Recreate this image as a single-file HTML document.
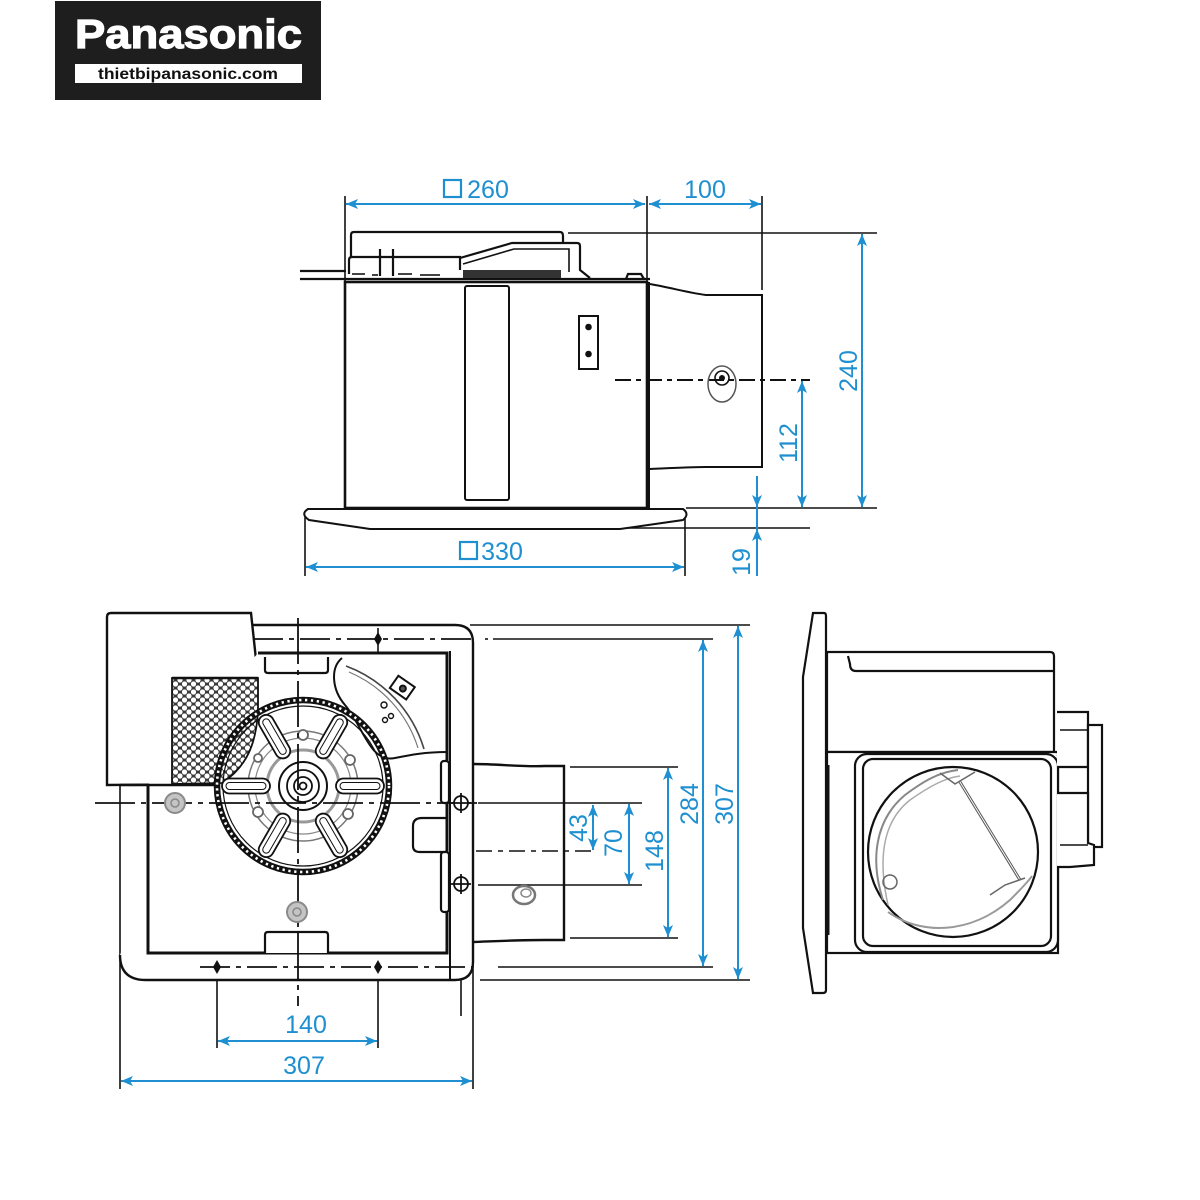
<!DOCTYPE html>
<html><head><meta charset="utf-8">
<style>html,body{margin:0;padding:0;background:#fff}svg{display:block}</style></head>
<body>
<svg width="1200" height="1200" viewBox="0 0 1200 1200" xmlns="http://www.w3.org/2000/svg">
<defs>
<marker id="ar" markerWidth="12" markerHeight="10" refX="12" refY="5" orient="auto-start-reverse" markerUnits="userSpaceOnUse" viewBox="0 0 12 10"><path d="M0,0 L12,5 L0,10 L3,5 z" fill="#1e8fd0"/></marker>
<pattern id="hex" width="9" height="8" patternUnits="userSpaceOnUse">
<rect width="9" height="8" fill="#3a3a3a"/>
<circle cx="0" cy="0" r="2.6" fill="#fff"/><circle cx="9" cy="0" r="2.6" fill="#fff"/>
<circle cx="4.5" cy="4" r="2.6" fill="#fff"/>
<circle cx="0" cy="8" r="2.6" fill="#fff"/><circle cx="9" cy="8" r="2.6" fill="#fff"/>
</pattern>
</defs>
<rect width="1200" height="1200" fill="#fff"/>

<!-- LOGO -->
<rect x="55" y="1" width="266" height="99" fill="#1e1e1e"/>
<text x="75" y="48" font-family="Liberation Sans, Arial, sans-serif" font-weight="bold" font-size="41" fill="#fff" stroke="#fff" stroke-width="1.2" textLength="227" lengthAdjust="spacingAndGlyphs">Panasonic</text>
<rect x="75" y="64" width="227" height="19" fill="#fff"/>
<text x="188" y="79" text-anchor="middle" font-family="Liberation Sans, Arial, sans-serif" font-weight="bold" font-size="16" fill="#111" textLength="180" lengthAdjust="spacingAndGlyphs">thietbipanasonic.com</text>

<!-- ================= TOP VIEW ================= -->
<g stroke="#111" fill="none" stroke-width="1.6">
  <line x1="345" y1="196" x2="345" y2="282"/>
  <line x1="647" y1="196" x2="647" y2="282"/>
  <line x1="762" y1="196" x2="762" y2="290"/>
  <line x1="568" y1="233" x2="877" y2="233"/>
  <line x1="686" y1="508" x2="877" y2="508"/>
  <line x1="620" y1="528" x2="810" y2="528"/>
  <line x1="305" y1="515" x2="305" y2="576"/>
  <line x1="685" y1="518" x2="685" y2="576"/>
</g>
<g stroke="#111" fill="none" stroke-width="2.2">
  <path d="M351,257 L351,235 Q351,232 354,232 L560,232 Q563,232 563,236 L563,242"/>
  <path d="M349,274 L349,260 Q349,257 352,257 L460,257 L460,270"/>
  <path d="M460,258 L512,243 L577,243 Q580,243 580,246 L580,270 L590,278"/>
  <path d="M463,264 L514,249 L569,249 L569,272" stroke-width="1.6"/>
  <line x1="380" y1="249" x2="380" y2="276"/>
  <line x1="393" y1="249" x2="393" y2="276"/>
  <line x1="300" y1="271" x2="346" y2="271"/>
  <line x1="300" y1="279" x2="346" y2="279"/>
  <line x1="345" y1="279" x2="650" y2="279"/>
  <path d="M626,279 L628,274 L641,274 L644,279"/>
</g>
<rect x="463" y="270" width="98" height="8" fill="#333"/>
<g fill="none" stroke="#444" stroke-width="2">
  <path d="M352,274 L365,274 M372,275 L378,275 M398,274 L412,274 M420,275 L440,275"/>
</g>
<g stroke="#111" fill="none" stroke-width="2.6">
  <rect x="345" y="282" width="302" height="226" fill="#fff"/>
</g>
<g stroke="#111" fill="none" stroke-width="2">
  <line x1="649" y1="282" x2="649" y2="508"/>
  <rect x="465" y="286" width="44" height="214" rx="2"/>
  <rect x="579" y="316" width="19" height="53"/>
  <circle cx="588.5" cy="327" r="2.3" fill="#111"/>
  <circle cx="588.5" cy="354" r="2.3" fill="#111"/>
  <path d="M650,284 C672,288 690,293 706,295 L762,295 L762,467 L706,467 C690,467 672,468 650,469"/>
  <path d="M308,509 L683,509 Q690,514 683,520 L620,529 L370,529 L309,520 Q300,514 308,509 Z" fill="#fff"/>
  <line x1="615" y1="380" x2="810" y2="380" stroke-dasharray="16 5 5 5"/>
  <ellipse cx="722" cy="384" rx="14" ry="18" stroke="#555" stroke-width="1.5"/>
  <circle cx="722" cy="378" r="7" stroke-width="1.6"/>
  <circle cx="722" cy="378" r="2" fill="#111"/>
</g>
<g stroke="#1e8fd0" stroke-width="2" fill="none">
  <line x1="346" y1="204" x2="645" y2="204" marker-start="url(#ar)" marker-end="url(#ar)"/>
  <line x1="649" y1="204" x2="761" y2="204" marker-start="url(#ar)" marker-end="url(#ar)"/>
  <line x1="862" y1="234" x2="862" y2="507" marker-start="url(#ar)" marker-end="url(#ar)"/>
  <line x1="802" y1="381" x2="802" y2="507" marker-start="url(#ar)" marker-end="url(#ar)"/>
  <line x1="757" y1="476" x2="757" y2="507" marker-end="url(#ar)"/>
  <line x1="757" y1="576" x2="757" y2="529" marker-end="url(#ar)"/>
  <line x1="757" y1="507" x2="757" y2="529"/>
  <line x1="306" y1="567" x2="684" y2="567" marker-start="url(#ar)" marker-end="url(#ar)"/>
  <rect x="444" y="180" width="17" height="17" stroke-width="2.2"/>
  <rect x="460" y="542" width="17" height="17" stroke-width="2.2"/>
</g>
<g font-family="Liberation Sans, Arial, sans-serif" font-size="25" fill="#1e8fd0">
  <text x="488" y="198" text-anchor="middle">260</text>
  <text x="705" y="198" text-anchor="middle">100</text>
  <text x="502" y="560" text-anchor="middle">330</text>
  <text transform="translate(848,371) rotate(-90)" text-anchor="middle" dy="9">240</text>
  <text transform="translate(788,443) rotate(-90)" text-anchor="middle" dy="9">112</text>
  <text transform="translate(741,562) rotate(-90)" text-anchor="middle" dy="9">19</text>
</g>

<!-- ================= BOTTOM VIEW ================= -->
<g stroke="#111" fill="none" stroke-width="1.6">
  <line x1="470" y1="625" x2="750" y2="625"/>
  <line x1="485" y1="639" x2="488" y2="639"/>
  <line x1="493" y1="639" x2="713" y2="639"/>
  <line x1="570" y1="767" x2="678" y2="767"/>
  <line x1="478" y1="803" x2="642" y2="803"/>
  <line x1="478" y1="885" x2="642" y2="885"/>
  <line x1="570" y1="938" x2="678" y2="938"/>
  <line x1="498" y1="967" x2="713" y2="967"/>
  <line x1="480" y1="980" x2="750" y2="980"/>
  <line x1="120" y1="785" x2="120" y2="1089"/>
  <line x1="473" y1="960" x2="473" y2="1089"/>
  <line x1="217" y1="955" x2="217" y2="1048"/>
  <line x1="378" y1="955" x2="378" y2="1048"/>
  <line x1="461" y1="900" x2="461" y2="1016"/>
  <line x1="401" y1="851" x2="403" y2="851"/>
  <line x1="410" y1="851" x2="597" y2="851" stroke-dasharray="16 6 5 6"/>
</g>
<g stroke="#111" fill="none" stroke-width="2.4">
  <path d="M253,625 L455,625 Q473,625 473,643 L473,962 Q473,980 455,980 L146,980 Q120,980 120,955" fill="#fff"/>
  <path d="M473,764 C500,764 520,767 545,766 L564,766 L564,940 L545,940 C520,940 500,941 473,942"/>
</g>
<g stroke="#111" stroke-width="2.4" fill="#fff">
  <path d="M107,785 L107,617 Q107,613 111,613 L251,613 L258,678 L258,784 Z"/>
</g>
<g stroke="#111" fill="none" stroke-width="3">
  <path d="M258,653 L447,653 L447,953 L148,953 L148,785" fill="#fff"/>
  <line x1="450" y1="651" x2="450" y2="980" stroke-width="2"/>
  <line x1="120" y1="785" x2="258" y2="785" stroke-width="2.4"/>
</g>
<g stroke="#111" fill="#fff" stroke-width="2.2">
  <path d="M265,657 L265,670 Q265,673 268,673 L325,673 Q328,673 328,670 L328,657"/>
  <path d="M265,953 L265,935 Q265,932 268,932 L325,932 Q328,932 328,935 L328,953"/>
  <path d="M447,818 L422,818 Q413,818 413,826 L413,846 Q413,852 420,852 L447,852" fill="none"/>
  <rect x="441" y="761" width="8" height="42" rx="3"/>
  <rect x="441" y="852" width="8" height="60" rx="3"/>
</g>
<!-- fan -->
<circle cx="303" cy="786" r="88" fill="#fff"/>
<path d="M172,678 L258,678 L258,712 C256,742 248,766 222,783 L172,784 Z" fill="url(#hex)" stroke="#111" stroke-width="1.8"/>
<line x1="172" y1="678" x2="258" y2="678" stroke="#111" stroke-width="2.4"/>
<g stroke="#111" fill="none" stroke-width="2">
  <path d="M342,658 C330,668 332,690 345,705 C356,718 362,735 372,748 C378,756 386,760 395,758 C410,755 425,752 447,752" fill="#fff"/>
  <path d="M346,666 A128,128 0 0 1 424,749" stroke="#444" stroke-width="1.6"/>
  <path d="M349,672 A122,122 0 0 1 418,748" stroke="#777" stroke-width="1.2"/>
  <g transform="translate(402,688) rotate(35)"><rect x="-10" y="-8" width="20" height="15" fill="#fff"/><circle cx="1" cy="0" r="3" fill="#555"/></g>
  <circle cx="384" cy="705" r="3" stroke-width="1.4"/>
  <circle cx="391" cy="716" r="2.5" stroke-width="1.4"/>
  <circle cx="385" cy="720" r="2.5" stroke-width="1.4"/>
</g>
<g fill="none" stroke="#111">
  <circle cx="303" cy="786" r="86" stroke-width="6.5"/>
  <circle cx="303" cy="786" r="86" stroke="#fff" stroke-width="2.6" stroke-dasharray="2.3 3.6"/>
  <circle cx="303" cy="786" r="80" stroke-width="1.2"/>
  <circle cx="303" cy="786" r="55" stroke="#777" stroke-width="1.5"/>
  <circle cx="303" cy="786" r="48" stroke="#888" stroke-width="1.2"/>
  <circle cx="303" cy="786" r="36" stroke="#999" stroke-width="3"/>
</g>
<g stroke="#111" fill="#fff" stroke-width="1.8">
  <g transform="translate(303,786) rotate(0)"><rect x="33" y="-7.5" width="48" height="15" rx="7.5"/><rect x="37" y="-3.5" width="40" height="7" rx="3.5" stroke-width="1"/></g>
  <g transform="translate(303,786) rotate(60)"><rect x="33" y="-7.5" width="48" height="15" rx="7.5"/><rect x="37" y="-3.5" width="40" height="7" rx="3.5" stroke-width="1"/></g>
  <g transform="translate(303,786) rotate(120)"><rect x="33" y="-7.5" width="48" height="15" rx="7.5"/><rect x="37" y="-3.5" width="40" height="7" rx="3.5" stroke-width="1"/></g>
  <g transform="translate(303,786) rotate(180)"><rect x="33" y="-7.5" width="48" height="15" rx="7.5"/><rect x="37" y="-3.5" width="40" height="7" rx="3.5" stroke-width="1"/></g>
  <g transform="translate(303,786) rotate(240)"><rect x="33" y="-7.5" width="48" height="15" rx="7.5"/><rect x="37" y="-3.5" width="40" height="7" rx="3.5" stroke-width="1"/></g>
  <g transform="translate(303,786) rotate(300)"><rect x="33" y="-7.5" width="48" height="15" rx="7.5"/><rect x="37" y="-3.5" width="40" height="7" rx="3.5" stroke-width="1"/></g>
  <circle cx="303" cy="786" r="24" stroke-width="2"/>
  <circle cx="303" cy="786" r="16"/>
  <circle cx="303" cy="786" r="9"/>
  <circle cx="303" cy="786" r="3.5"/>
  <circle cx="258" cy="812" r="5" stroke="#666"/>
  <circle cx="350" cy="760" r="5" stroke="#666"/>
  <circle cx="348" cy="814" r="5" stroke="#666"/>
  <circle cx="258" cy="758" r="4" stroke="#666"/>
  <circle cx="303" cy="735" r="5" stroke="#666"/>
</g>
<g stroke="#111" stroke-width="1.8" fill="none">
  <line x1="298" y1="618" x2="298" y2="1006" stroke-dasharray="46 6 5 6"/>
  <line x1="95" y1="803" x2="478" y2="803" stroke-dasharray="40 6 5 6"/>
  <line x1="253" y1="639" x2="473" y2="639" stroke-dasharray="30 6 5 6"/>
  <line x1="200" y1="967" x2="473" y2="967" stroke-dasharray="30 6 5 6"/>
</g>
<circle cx="175" cy="803" r="10" fill="#c4c4c4" stroke="#8a8a8a" stroke-width="2"/>
<circle cx="175" cy="803" r="4" fill="none" stroke="#888" stroke-width="1.5"/>
<circle cx="297" cy="912" r="10" fill="#c4c4c4" stroke="#8a8a8a" stroke-width="2"/>
<circle cx="297" cy="912" r="4" fill="none" stroke="#888" stroke-width="1.5"/>
<ellipse cx="524" cy="895" rx="11" ry="9" fill="none" stroke="#777" stroke-width="2.5"/>
<ellipse cx="526" cy="893" rx="5" ry="4" fill="none" stroke="#888" stroke-width="1.5"/>
<g stroke="#111" stroke-width="1.8" fill="#fff">
  <circle cx="461" cy="803" r="7"/>
  <line x1="451" y1="803" x2="471" y2="803"/><line x1="461" y1="793" x2="461" y2="813"/>
  <circle cx="461" cy="884" r="7"/>
  <line x1="451" y1="884" x2="471" y2="884"/><line x1="461" y1="874" x2="461" y2="894"/>
</g>
<g fill="#111">
  <path d="M378,632 L382,639 L378,646 L374,639 Z"/>
  <path d="M217,960 L221,967 L217,974 L213,967 Z"/>
  <path d="M378,960 L382,967 L378,974 L374,967 Z"/>
  <line x1="378" y1="628" x2="378" y2="653" stroke="#111" stroke-width="1.6"/>
</g>
<g stroke="#1e8fd0" stroke-width="2" fill="none">
  <line x1="703" y1="640" x2="703" y2="966" marker-start="url(#ar)" marker-end="url(#ar)"/>
  <line x1="738" y1="626" x2="738" y2="979" marker-start="url(#ar)" marker-end="url(#ar)"/>
  <line x1="668" y1="768" x2="668" y2="937" marker-start="url(#ar)" marker-end="url(#ar)"/>
  <line x1="629" y1="804" x2="629" y2="884" marker-start="url(#ar)" marker-end="url(#ar)"/>
  <line x1="593" y1="805" x2="593" y2="850" marker-start="url(#ar)" marker-end="url(#ar)"/>
  <line x1="218" y1="1041" x2="377" y2="1041" marker-start="url(#ar)" marker-end="url(#ar)"/>
  <line x1="121" y1="1081" x2="472" y2="1081" marker-start="url(#ar)" marker-end="url(#ar)"/>
</g>
<g font-family="Liberation Sans, Arial, sans-serif" font-size="25" fill="#1e8fd0">
  <text transform="translate(689,804) rotate(-90)" text-anchor="middle" dy="9">284</text>
  <text transform="translate(724,804) rotate(-90)" text-anchor="middle" dy="9">307</text>
  <text transform="translate(654,851) rotate(-90)" text-anchor="middle" dy="9">148</text>
  <text transform="translate(613,843) rotate(-90)" text-anchor="middle" dy="9">70</text>
  <text transform="translate(578,828) rotate(-90)" text-anchor="middle" dy="9">43</text>
  <text x="306" y="1033" text-anchor="middle">140</text>
  <text x="304" y="1074" text-anchor="middle">307</text>
</g>

<!-- ================= SIDE VIEW ================= -->
<g stroke="#111" stroke-width="2.2" fill="#fff">
  <path d="M813,613 L824,613 Q826,613 826,616 L826,990 Q826,993 823,993 L813,993 L803,928 L803,677 Z"/>
  <path d="M827,652 L1050,652 Q1054,652 1054,656 L1054,752 L827,752 Z"/>
  <path d="M848,656 L850,664 Q850,671 856,671 L1053,671" fill="none"/>
  <rect x="827" y="752" width="231" height="201"/>
  <rect x="855" y="754" width="203" height="198" rx="12"/>
  <rect x="863" y="759" width="188" height="187" rx="10"/>
  <circle cx="953" cy="852" r="85"/>
  <path d="M1057,712 L1088,712 L1088,767 L1057,767" fill="#fff"/>
  <rect x="1088" y="725" width="14" height="122"/>
  <path d="M1057,793 L1088,793 L1088,843 L1094,845 L1094,865 L1070,867 L1057,867" fill="#fff"/>
  <line x1="1060" y1="730" x2="1088" y2="730" stroke-width="1.5"/>
  <line x1="1060" y1="845" x2="1088" y2="845" stroke-width="1.5"/>
</g>
<g stroke="#111" fill="none">
  <path d="M883,900 C870,860 875,820 905,795 C925,780 940,772 958,770" stroke="#888" stroke-width="2"/>
  <path d="M888,905 C878,860 882,822 910,800 C930,786 945,778 960,776" stroke="#aaa" stroke-width="1.5"/>
  <path d="M888,912 C920,935 970,935 1010,900 C1020,890 1028,882 1032,876" stroke="#999" stroke-width="2"/>
  <line x1="960" y1="782" x2="1020" y2="880" stroke="#555" stroke-width="3"/>
  <line x1="960" y1="782" x2="1020" y2="880" stroke="#fff" stroke-width="1"/>
  <path d="M940,773 L955,784 L975,772" stroke="#666" stroke-width="1.5"/>
  <path d="M990,895 L1005,885 L1025,878" stroke="#666" stroke-width="1.5"/>
  <circle cx="890" cy="882" r="7" stroke="#666" stroke-width="1.5"/>
  <line x1="828" y1="765" x2="828" y2="935" stroke-width="3"/>
</g>

</svg>
</body></html>
